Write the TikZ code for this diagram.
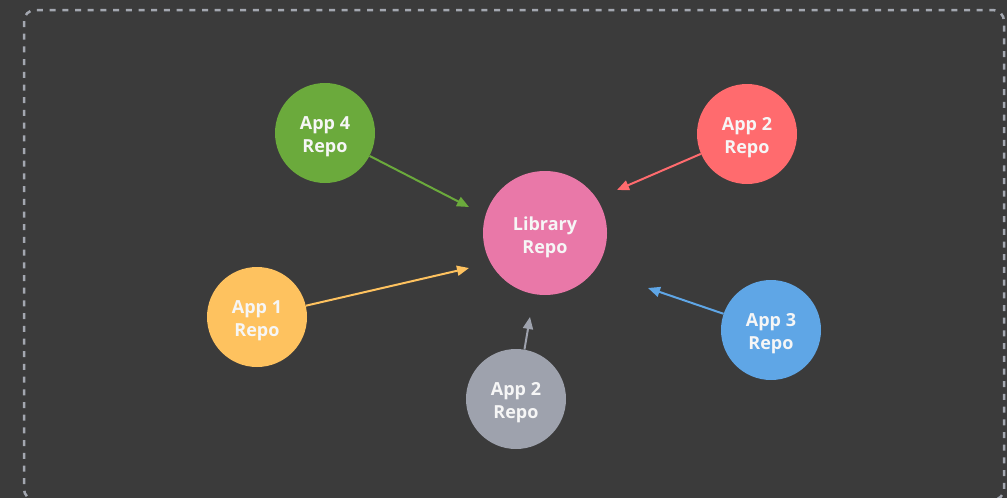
\documentclass[tikz,border=0pt]{standalone}
\usepackage{fontspec}
\setmainfont{Open Sans}
\usetikzlibrary{arrows.meta}
\definecolor{bg}{HTML}{3B3B3B}
\definecolor{frame}{HTML}{A3A7B0}
\definecolor{cgreen}{HTML}{6BAA3C}
\definecolor{cpink}{HTML}{E978A8}
\definecolor{cred}{HTML}{FF6B6E}
\definecolor{cyellow}{HTML}{FEC25F}
\definecolor{cblue}{HTML}{5FA6E6}
\definecolor{cgray}{HTML}{9EA2AD}
\definecolor{txt}{HTML}{F6F6F6}
\tikzset{
  repo/.style={circle, minimum size=100pt, inner sep=0pt},
  lbl/.style={text=txt, align=center, inner sep=0pt, yshift=-4pt,
    font=\fontsize{18}{23}\selectfont\bfseries},
  arr/.style={line width=2pt, -{Triangle[length=12pt,width=10pt]}}
}
\begin{document}
\begin{tikzpicture}[x=1pt,y=-1pt]
\fill[bg] (0,0) rectangle (1007,498);
\useasboundingbox (0,0) rectangle (1007,498);
\draw[frame, line width=2.5pt, dash pattern=on 6pt off 6.7pt, rounded corners=11pt]
  (24,10) rectangle (1004,500);
\node[repo, fill=cpink, minimum size=124pt, label={[lbl]center:Library\\Repo}] (lib) at (545,233) {};
\node[repo, fill=cgreen, label={[lbl]center:App 4\\Repo}] (app4) at (325,133) {};
\node[repo, fill=cred, label={[lbl]center:App 2\\Repo}] (app2a) at (747,134) {};
\node[repo, fill=cyellow, label={[lbl]center:App 1\\Repo}] (app1) at (257,317) {};
\node[repo, fill=cgray, label={[lbl]center:App 2\\Repo}] (app2b) at (516,399) {};
\node[repo, fill=cblue, label={[lbl]center:App 3\\Repo}] (app3) at (771,330) {};
\coordinate (t4) at (469,207);
\coordinate (t1) at (469,268);
\coordinate (t2b) at (530,317);
\coordinate (t3) at (648,288);
\coordinate (t2a) at (617,190);
\draw[arr, cgreen] (app4) -- (t4);
\draw[arr, cyellow] (app1) -- (t1);
\draw[arr, cgray] (app2b) -- (t2b);
\draw[arr, cblue] (app3) -- (t3);
\draw[arr, cred] (app2a) -- (t2a);
\end{tikzpicture}
\end{document}
